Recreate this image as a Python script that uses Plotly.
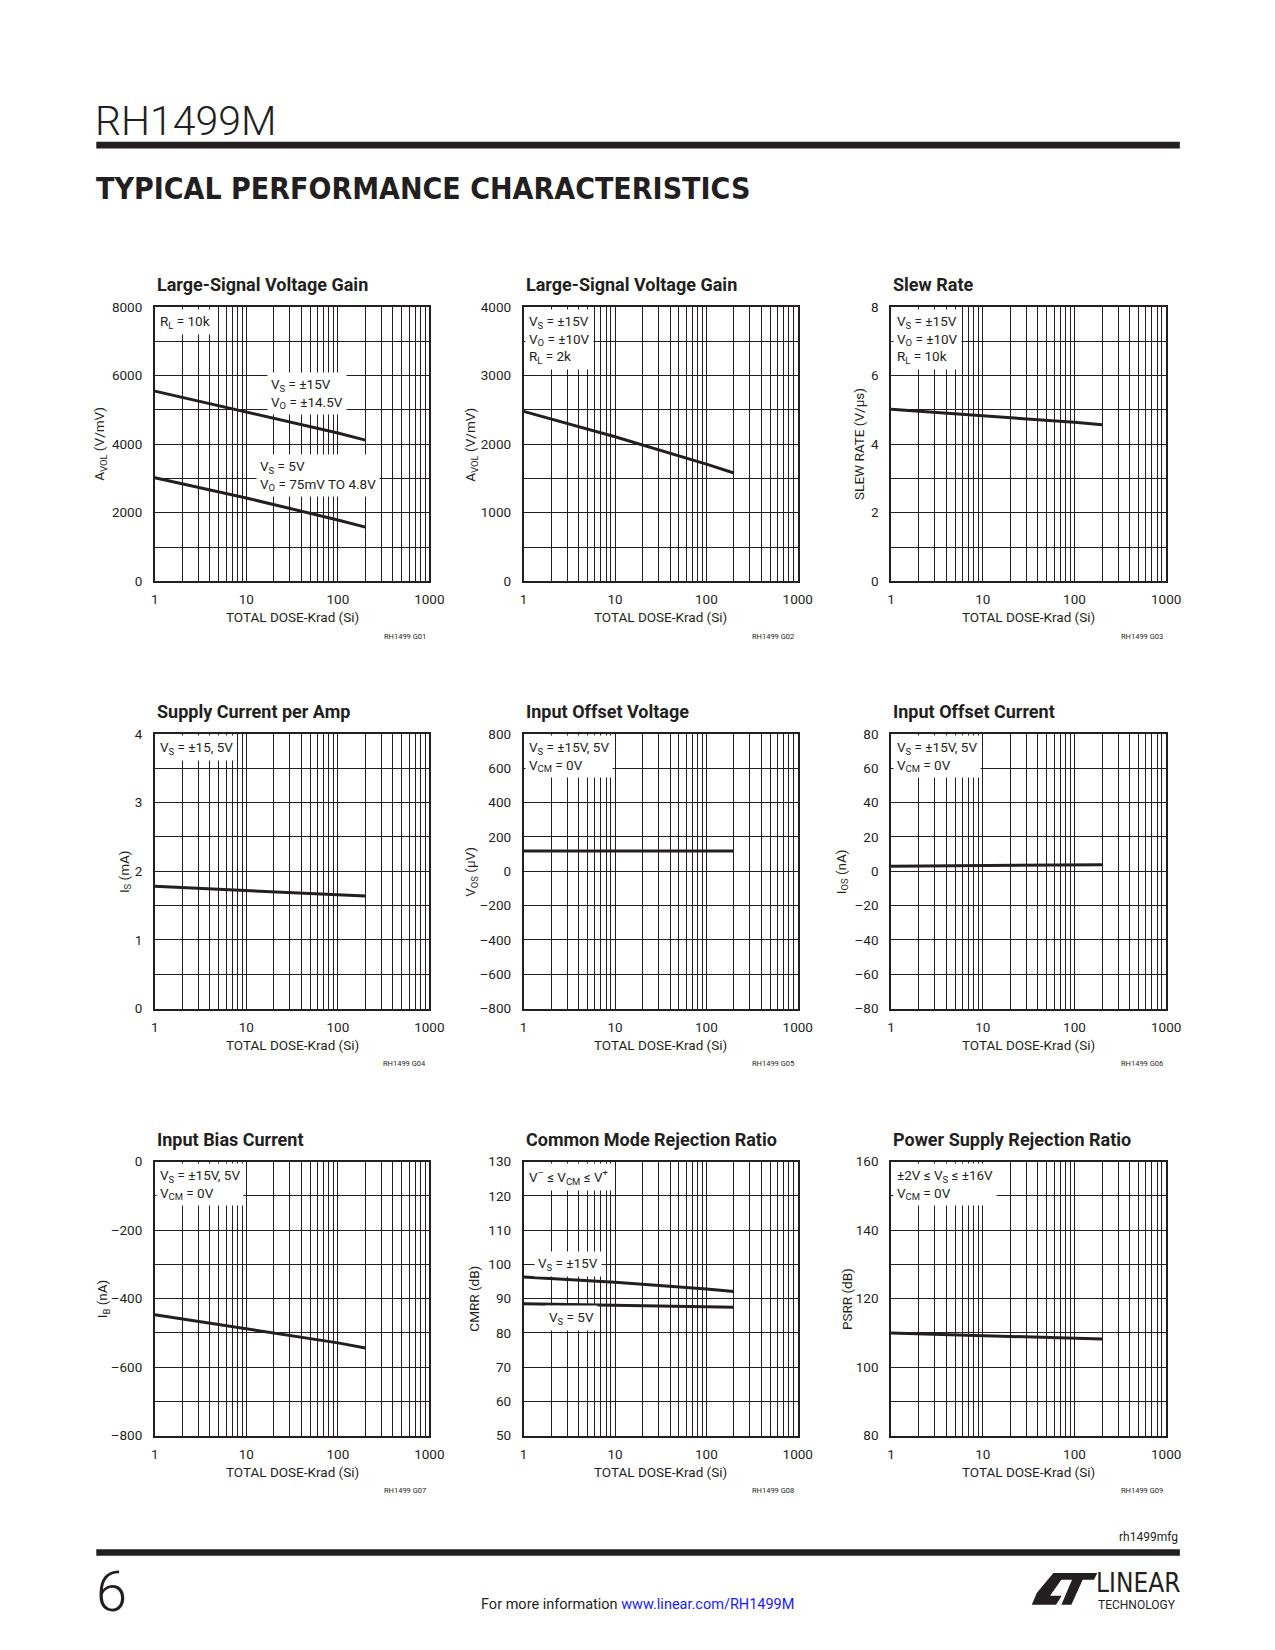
import plotly.graph_objects as go

# Page-to-figure calibration: the captured page shows the figure slightly
# scaled and offset, so target page pixels are converted before use.
W, H = 1259, 1625
SX, SY = 0.9865, 0.990
OXP, OYP = 10.4, 16.7
INK = "#231f20"
SANS = "Roboto, Liberation Sans, Arial, sans-serif"
COND = "DejaVu Sans Condensed, Liberation Sans Narrow, Arial Narrow, sans-serif"

# ------------------------------------------------------------------ data
dose_krad = [1, 10, 100, 200]

avol_vs15_rl10k = [5550, 4950, 4330, 4120]
avol_vs5_rl10k = [3020, 2430, 1790, 1580]
avol_vs15_rl2k = [2480, 2110, 1710, 1580]
slew_rate = [5.02, 4.84, 4.64, 4.57]
supply_current = [1.78, 1.72, 1.66, 1.64]
offset_voltage = [118, 118, 118, 118]
offset_current = [2.9, 3.2, 3.6, 3.8]
bias_current = [-447, -488, -529, -544]
cmrr_vs15 = [96.3, 94.8, 92.8, 92.1]
cmrr_vs5 = [88.5, 88.0, 87.7, 87.5]
psrr = [110.0, 109.2, 108.4, 108.2]

x_grid = [m * 10 ** e for e in range(3) for m in range(1, 10)] + [1000]
x_ticktext = [str(v) if v in (1, 10, 100, 1000) else "" for v in x_grid]

y1_vals = [0, 1000, 2000, 3000, 4000, 5000, 6000, 7000, 8000]
y1_text = ["0", "", "2000", "", "4000", "", "6000", "", "8000"]
y2_vals = [0, 500, 1000, 1500, 2000, 2500, 3000, 3500, 4000]
y2_text = ["0", "", "1000", "", "2000", "", "3000", "", "4000"]
y3_vals = [0, 1, 2, 3, 4, 5, 6, 7, 8]
y3_text = ["0", "", "2", "", "4", "", "6", "", "8"]
y4_vals = [0, 0.5, 1, 1.5, 2, 2.5, 3, 3.5, 4]
y4_text = ["0", "", "1", "", "2", "", "3", "", "4"]
y5_vals = [-800, -600, -400, -200, 0, 200, 400, 600, 800]
y5_text = ["\u2013800", "\u2013600", "\u2013400", "\u2013200", "0", "200", "400", "600", "800"]
y6_vals = [-80, -60, -40, -20, 0, 20, 40, 60, 80]
y6_text = ["\u201380", "\u201360", "\u201340", "\u201320", "0", "20", "40", "60", "80"]
y7_vals = [-800, -700, -600, -500, -400, -300, -200, -100, 0]
y7_text = ["\u2013800", "", "\u2013600", "", "\u2013400", "", "\u2013200", "", "0"]
y8_vals = [50, 60, 70, 80, 90, 100, 110, 120, 130]
y8_text = ["50", "60", "70", "80", "90", "100", "110", "120", "130"]
y9_vals = [80, 90, 100, 110, 120, 130, 140, 150, 160]
y9_text = ["80", "", "100", "", "120", "", "140", "", "160"]

# ------------------------------------------------------------------ layout geometry (page pixels)
col_left = [153.3, 522.7, 890.7]
col_right = [428.3, 797.3, 1166.3]
row_top = [307.7, 734.3, 1162.0]
row_bot = [581.7, 1009.0, 1436.0]


def px(x):
    return (x / SX - OXP) / W


def py(y):
    return 1 - (y / SY - OYP) / H


charts = [
    dict(title="Large-Signal Voltage Gain", ylabel="A<sub>VOL</sub> (V/mV)", ylab_x=99,
         yv=y1_vals, yt=y1_text, code="RH1499 G01",
         series=[avol_vs15_rl10k, avol_vs5_rl10k],
         boxes=[("R<sub>L</sub> = 10k", "corner", None),
                ("V<sub>S</sub> = \u00b115V<br>V<sub>O</sub> = \u00b114.5V", 266, 394),
                ("V<sub>S</sub> = 5V<br>V<sub>O</sub> = 75mV TO 4.8V", 255, 476)]),
    dict(title="Large-Signal Voltage Gain", ylabel="A<sub>VOL</sub> (V/mV)", ylab_x=470.5,
         yv=y2_vals, yt=y2_text, code="RH1499 G02",
         series=[avol_vs15_rl2k],
         boxes=[("V<sub>S</sub> = \u00b115V<br>V<sub>O</sub> = \u00b110V<br>R<sub>L</sub> = 2k", "corner", None)]),
    dict(title="Slew Rate", ylabel="SLEW RATE (V/\u00b5s)", ylab_x=859.3,
         yv=y3_vals, yt=y3_text, code="RH1499 G03",
         series=[slew_rate],
         boxes=[("V<sub>S</sub> = \u00b115V<br>V<sub>O</sub> = \u00b110V<br>R<sub>L</sub> = 10k", "corner", None)]),
    dict(title="Supply Current per Amp", ylabel="I<sub>S</sub> (mA)", ylab_x=123.3,
         yv=y4_vals, yt=y4_text, code="RH1499 G04",
         series=[supply_current],
         boxes=[("V<sub>S</sub> = \u00b115, 5V", "corner", None)]),
    dict(title="Input Offset Voltage", ylabel="V<sub>OS</sub> (\u00b5V)", ylab_x=470.5,
         yv=y5_vals, yt=y5_text, code="RH1499 G05",
         series=[offset_voltage],
         boxes=[("V<sub>S</sub> = \u00b115V, 5V<br>V<sub>CM</sub> = 0V", "corner", None)]),
    dict(title="Input Offset Current", ylabel="I<sub>OS</sub> (nA)", ylab_x=841.5,
         yv=y6_vals, yt=y6_text, code="RH1499 G06",
         series=[offset_current],
         boxes=[("V<sub>S</sub> = \u00b115V, 5V<br>V<sub>CM</sub> = 0V", "corner", None)]),
    dict(title="Input Bias Current", ylabel="I<sub>B</sub> (nA)", ylab_x=101,
         yv=y7_vals, yt=y7_text, code="RH1499 G07",
         series=[bias_current],
         boxes=[("V<sub>S</sub> = \u00b115V, 5V<br>V<sub>CM</sub> = 0V", "corner", None)]),
    dict(title="Common Mode Rejection Ratio", ylabel="CMRR (dB)", ylab_x=473,
         yv=y8_vals, yt=y8_text, code="RH1499 G08",
         series=[cmrr_vs15, cmrr_vs5],
         boxes=[("V<sup>\u2013</sup> \u2264 V<sub>CM</sub> \u2264 V<sup>+</sup>", "corner", None),
                ("V<sub>S</sub> = \u00b115V", 533, 1264),
                ("V<sub>S</sub> = 5V", 544, 1318)]),
    dict(title="Power Supply Rejection Ratio", ylabel="PSRR (dB)", ylab_x=846,
         yv=y9_vals, yt=y9_text, code="RH1499 G09",
         series=[psrr],
         boxes=[("\u00b12V \u2264 V<sub>S</sub> \u2264 \u00b116V<br>V<sub>CM</sub> = 0V", "corner", None)]),
]

fig = go.Figure()
annotations = []
shapes = []

for i, ch in enumerate(charts):
    r, c = divmod(i, 3)
    n = i + 1
    xa = "x" if n == 1 else f"x{n}"
    ya = "y" if n == 1 else f"y{n}"
    L, R, T, B = col_left[c], col_right[c], row_top[r], row_bot[r]

    for s in ch["series"]:
        fig.add_trace(go.Scatter(x=dose_krad, y=s, mode="lines", xaxis=xa, yaxis=ya,
                                 line=dict(color=INK, width=3), showlegend=False,
                                 hoverinfo="skip"))

    common = dict(showgrid=True, gridcolor=INK, gridwidth=1.2, showline=True, mirror=True,
                  linecolor=INK, linewidth=1.6, zeroline=False, ticks="",
                  tickfont=dict(family=SANS, size=13.5, color=INK))
    fig.layout[f"xaxis{'' if n == 1 else n}"] = dict(
        type="log", range=[0, 3], domain=[px(L), px(R)], anchor=ya,
        tickmode="array", tickvals=x_grid, ticktext=x_ticktext, ticklabelstandoff=5, **common)
    fig.layout[f"yaxis{'' if n == 1 else n}"] = dict(
        range=[ch["yv"][0], ch["yv"][-1]], domain=[py(B), py(T)], anchor=xa,
        tickmode="array", tickvals=ch["yv"], ticktext=ch["yt"], ticklabelstandoff=8, **common)

    annotations.append(dict(text=f"<b>{ch['title']}</b>", x=px(L), y=py(T - 22.5),
                            xref="paper", yref="paper", xanchor="left", yanchor="middle",
                            showarrow=False, font=dict(family=SANS, size=18, color=INK)))
    annotations.append(dict(text="TOTAL DOSE-Krad (Si)", x=px((L + R) / 2), y=py(B + 36),
                            xref="paper", yref="paper", xanchor="center", yanchor="middle",
                            showarrow=False, font=dict(family=SANS, size=13.5, color=INK)))
    annotations.append(dict(text=ch["ylabel"], x=px(ch["ylab_x"]), y=py((T + B) / 2),
                            xref="paper", yref="paper", xanchor="center", yanchor="middle",
                            textangle=-90, showarrow=False,
                            font=dict(family=SANS, size=13.5, color=INK)))
    annotations.append(dict(text=ch["code"], x=px(R - 1.5), y=py(B + 55),
                            xref="paper", yref="paper", xanchor="right", yanchor="middle",
                            showarrow=False, font=dict(family=SANS, size=7.5, color=INK)))
    for txt, bx, by in ch["boxes"]:
        if bx == "corner":
            annotations.append(dict(text=txt, x=px(L + 1.5), y=py(T + 1.5), xref="paper",
                                    yref="paper", xanchor="left", yanchor="top", align="left",
                                    showarrow=False, bgcolor="white", borderpad=3,
                                    font=dict(family=SANS, size=13.5, color=INK)))
        else:
            annotations.append(dict(text=txt, x=px(bx), y=py(by), xref="paper",
                                    yref="paper", xanchor="left", yanchor="middle", align="left",
                                    showarrow=False, bgcolor="white", borderpad=3,
                                    font=dict(family=SANS, size=13.5, color=INK)))

# ------------------------------------------------------------------ page furniture
annotations.append(dict(text="RH1499M", x=px(91), y=py(122), xref="paper", yref="paper",
                        xanchor="left", yanchor="middle", showarrow=False,
                        font=dict(family=SANS, size=41, color=INK, weight=300)))
annotations.append(dict(text="<b>TYPICAL PERFORMANCE CHARACTERISTICS</b>", x=px(92), y=py(189),
                        xref="paper", yref="paper", xanchor="left", yanchor="middle",
                        showarrow=False, font=dict(family=COND, size=30, color=INK)))
annotations.append(dict(text="rh1499mfg", x=px(1180), y=py(1537), xref="paper", yref="paper",
                        xanchor="right", yanchor="middle", showarrow=False,
                        font=dict(family=SANS, size=12, color=INK)))
annotations.append(dict(text="6", x=px(92), y=py(1592), xref="paper", yref="paper",
                        xanchor="left", yanchor="middle", showarrow=False,
                        font=dict(family=SANS, size=56, color=INK, weight=300)))
annotations.append(dict(text="For more information <span style='color:#1a1aff'>www.linear.com/RH1499M</span>",
                        x=px(637), y=py(1605), xref="paper", yref="paper",
                        xanchor="center", yanchor="middle", showarrow=False,
                        font=dict(family=SANS, size=14.5, color=INK)))
annotations.append(dict(text="LINEAR", x=px(1094), y=py(1583), xref="paper", yref="paper",
                        xanchor="left", yanchor="middle", showarrow=False,
                        font=dict(family=COND, size=26, color=INK)))
annotations.append(dict(text="TECHNOLOGY", x=px(1096), y=py(1605), xref="paper", yref="paper",
                        xanchor="left", yanchor="middle", showarrow=False,
                        font=dict(family=SANS, size=12, color=INK)))

shapes.append(dict(type="rect", xref="paper", yref="paper", x0=px(94.7), x1=px(1180),
                   y0=py(149), y1=py(142.2), fillcolor=INK, line=dict(width=0)))
shapes.append(dict(type="rect", xref="paper", yref="paper", x0=px(94.7), x1=px(1180),
                   y0=py(1556), y1=py(1549.5), fillcolor=INK, line=dict(width=0)))


def poly(points):
    s = "M " + " L ".join(f"{px(1000 + a / 3):.5f},{py(1540 + b / 3):.5f}" for a, b in points)
    return s + " Z"


logo_left = [(160, 100), (198, 100), (150, 168), (185, 168), (168, 195), (95, 195), (110, 160)]
logo_right = [(182, 100), (292, 100), (282, 120), (248, 120), (214, 195), (184, 195), (216, 120), (172, 120)]
for pts in (logo_left, logo_right):
    shapes.append(dict(type="path", xref="paper", yref="paper", path=poly(pts),
                       fillcolor=INK, line=dict(width=0)))

fig.update_layout(width=W, height=H, margin=dict(l=0, r=0, t=0, b=0), autosize=False,
                  paper_bgcolor="white", plot_bgcolor="white", showlegend=False,
                  annotations=annotations, shapes=shapes)

fig.write_html("out.html")
